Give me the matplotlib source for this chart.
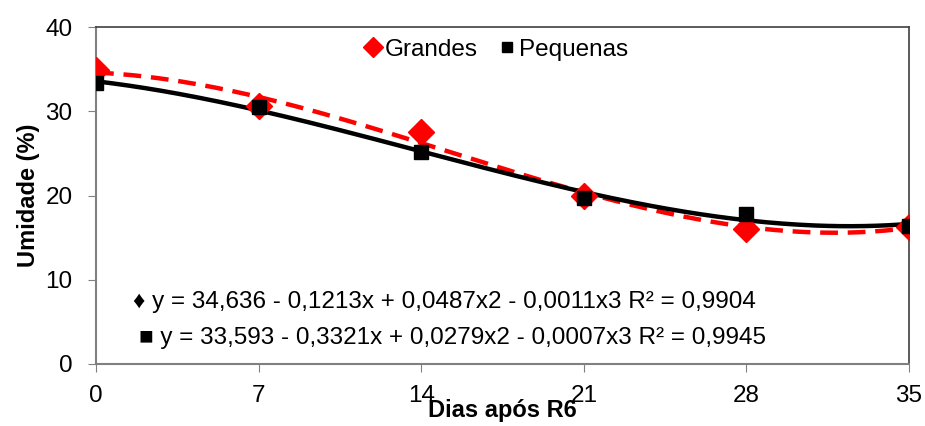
# Umidade das sementes (grandes x pequenas) ao longo dos dias apos R6,
# com ajuste polinomial de 3o grau para cada classe.
import numpy as np
import matplotlib.pyplot as plt

plt.rcParams['font.family'] = ['Liberation Sans', 'DejaVu Sans']

# Dados
dias = [0, 7, 14, 21, 28, 35]
grandes = [34.9, 30.6, 27.5, 20.0, 16.0, 16.3]
pequenas = [33.4, 30.5, 25.2, 19.7, 17.8, 16.4]
eq_grandes = '\u2666 y = 34,636 - 0,1213x + 0,0487x2 - 0,0011x3 R\u00b2 = 0,9904'
eq_pequenas = '\u25a0 y = 33,593 - 0,3321x + 0,0279x2 - 0,0007x3 R\u00b2 = 0,9945'

xs = np.linspace(0, 35, 200)
fit_g = np.polyval(np.polyfit(dias, grandes, 3), xs)
fit_p = np.polyval(np.polyfit(dias, pequenas, 3), xs)

fig = plt.figure(figsize=(9.25, 4.26), dpi=100)
ax = fig.add_axes([96/925, 62/426, 813/925, 337/426])

ax.plot(xs, fit_g, color='#ff0000', lw=3.2, ls=(0, (4, 2.2)), zorder=2)
ax.plot(xs, fit_p, color='black', lw=3.2, zorder=3)
ax.plot(dias, grandes, 'D', color='#ff0000', ms=13, label='Grandes', zorder=4)
ax.plot(dias, pequenas, 's', color='black', ms=10, label='Pequenas', zorder=5)

ax.set_xlim(0, 35)
ax.set_ylim(0, 40)
ax.set_xticks(dias)
ax.set_yticks([0, 10, 20, 30, 40])
ax.tick_params(labelsize=17.5, length=6, color='#808080', direction='out', pad=11)
ax.tick_params(axis='x', pad=9)
for s in ['left', 'bottom']:
    ax.spines[s].set_color('#808080')
    ax.spines[s].set_linewidth(1.5)
for s in ['top', 'right']:
    ax.spines[s].set_color('#404040')
    ax.spines[s].set_linewidth(1.2)
for s in ax.spines.values():
    s.set_clip_on(False)

ax.set_xlabel('Dias ap\u00f3s R6', fontsize=17, fontweight='bold', labelpad=-6)
ax.set_ylabel('Umidade (%)', fontsize=17, fontweight='bold', labelpad=4)

leg = ax.legend(loc='upper center', bbox_to_anchor=(0.49, 1.015), ncol=2,
                frameon=False, fontsize=17.5, handletextpad=0.0,
                columnspacing=0.7, handlelength=1.0, borderaxespad=0.3,
                markerscale=0.75)

ax.text(0.045, 0.184, eq_grandes, transform=ax.transAxes, fontsize=17.5,
        va='center')
ax.text(0.053, 0.077, eq_pequenas, transform=ax.transAxes, fontsize=17.5,
        va='center')

fig.savefig('out.png', dpi=100)
